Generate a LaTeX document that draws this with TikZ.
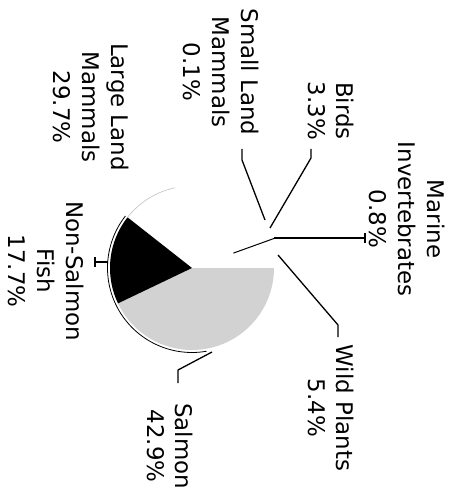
\documentclass[tikz,border=0pt]{standalone}
\usepackage{fontspec}
\setmainfont{DejaVu Sans}
\tikzset{
    pieLabel/.style={rotate=-90, align=center, inner sep=0pt, font=\fontsize{23}{29}\selectfont},
    leader/.style={line width=1.3bp, line join=round}
}
\begin{document}
\begin{tikzpicture}[x=1bp, y=-1bp]

    \useasboundingbox (0,0) rectangle (454,500);

    \def\pieX{192}
    \def\pieY{268}
    \def\pieRadius{82}
    \def\rimRadius{84.5}

    % pie wedges, angles clockwise from the right
    \foreach \wedgeFrom/\wedgeTo/\wedgeColor in {0/154.44/gray!35, 154.44/218.16/black}
    {
        \fill[\wedgeColor] (\pieX, \pieY) -- plot[domain=\wedgeFrom:\wedgeTo, samples=60, variable=\a] ({\pieX+\pieRadius*cos(\a)}, {\pieY+\pieRadius*sin(\a)}) -- cycle;
    }

    %rim
    \draw[line width=0.8bp] plot[domain=80:218, samples=60, variable=\a] ({\pieX+\rimRadius*cos(\a)}, {\pieY+\rimRadius*sin(\a)});
    \draw[gray!50, line width=0.6bp] plot[domain=218:258, samples=20, variable=\a] ({\pieX+\pieRadius*cos(\a)}, {\pieY+\pieRadius*sin(\a)});

    % edge between marine and wild plants
    \draw[line width=1bp] ({\pieX+44*cos(340.2)}, {\pieY+44*sin(340.2)}) -- ({\pieX+87*cos(340.2)}, {\pieY+87*sin(340.2)});

    % leader points
    \coordinate (smallEdge) at (265, 220);
    \coordinate (smallKnee) at (242, 160);
    \coordinate (smallEnd) at (242, 149);

    \coordinate (birdsEdge) at (270, 228);
    \coordinate (birdsKnee) at (311, 158);
    \coordinate (birdsEnd) at (311, 149);

    \coordinate (marineEdge) at (274, 238);
    \coordinate (marineEnd) at (365, 238);

    \coordinate (plantsEdge) at (278, 255);
    \coordinate (plantsKnee) at (338, 325);
    \coordinate (plantsEnd) at (338, 337);

    \coordinate (salmonEdge) at (212, 352);
    \coordinate (salmonKnee) at (178, 370);
    \coordinate (salmonEnd) at (178, 383);

    \coordinate (fishEdge) at (108, 262);
    \coordinate (fishEnd) at (95, 262);

    % labels
    \node[pieLabel] (marineLabel) at (407, 219) {Marine\\Invertebrates\\0.8\%};
    \node[pieLabel] (birdsLabel) at (331, 111) {Birds\\3.3\%};
    \node[pieLabel] (smallLabel) at (221, 72) {Small Land\\Mammals\\0.1\%};
    \node[pieLabel] (largeLabel) at (91, 107) {Large Land\\Mammals\\29.7\%};
    \node[pieLabel] (fishLabel) at (46, 271) {Non-Salmon\\Fish\\17.7\%};
    \node[pieLabel] (salmonLabel) at (170, 446) {Salmon\\42.9\%};
    \node[pieLabel] (plantsLabel) at (331, 408) {Wild Plants\\5.4\%};

    %leaders
    \draw[leader] (smallEdge) -- (smallKnee) -- (smallEnd);
    \draw[leader] (birdsEdge) -- (birdsKnee) -- (birdsEnd);
    \draw[leader] (marineEdge) -- (marineEnd);
    \draw[leader] (marineEnd) ++(0,-5) -- ++(0,10);
    \draw[leader] (plantsEdge) -- (plantsKnee) -- (plantsEnd);
    \draw[leader] (salmonEdge) -- (salmonKnee) -- (salmonEnd);
    \draw[leader] (fishEdge) -- (fishEnd);
    \draw[leader] (fishEnd) ++(0,-5) -- ++(0,10);

\end{tikzpicture}
\end{document}
